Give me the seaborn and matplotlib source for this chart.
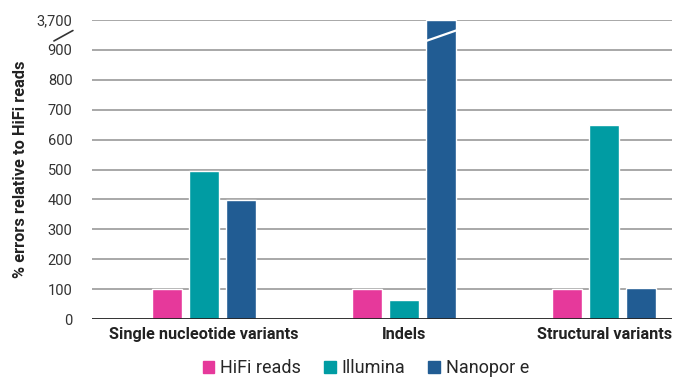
import pandas as pd
import matplotlib.pyplot as plt
import seaborn as sns
from matplotlib.patches import Patch

# Data
categories = ["Single nucleotide variants", "Indels", "Structural variants"]
platforms = ["HiFi reads", "Illumina", "Nanopor e"]
hifi = [100, 100, 100]
illumina = [495, 62, 650]
nanopore = [397, 3700, 105]
colors = ["#E6399B", "#009CA3", "#215C93"]

yticks = [0, 100, 200, 300, 400, 500, 600, 700, 800, 900, 1000]
ytick_labels = ["0", "100", "200", "300", "400", "500", "600", "700", "800", "900", "3,700"]

# Long table; values above 900 are drawn at the broken top tick
rows = []
for vals, p in zip([hifi, illumina, nanopore], platforms):
    for c, v in zip(categories, vals):
        rows.append({"Category": c, "Platform": p, "Value": v, "Shown": v if v <= 900 else 1000})
df = pd.DataFrame(rows)

sns.set_theme(style="white")
plt.rcParams['font.family'] = ['Roboto', 'DejaVu Sans']

fig = plt.figure(figsize=(6.81, 3.78), dpi=100)
ax = fig.add_axes([0.135, 0.156, 0.852, 0.791])

for y in yticks[1:]:
    ax.axhline(y, color="#9a9a9a", lw=1.2, zorder=0)
ax.axhline(0, color="#222222", lw=1.3, zorder=3)

sns.barplot(data=df, x="Category", y="Shown", hue="Platform", hue_order=platforms,
            palette=colors, width=0.555, gap=0.19, saturation=1, ax=ax, legend=False, zorder=2)

ax.set_xlim(-0.56, 2.34)
ax.set_ylim(0, 1000)
ax.set_yticks(yticks)
ax.set_yticklabels(ytick_labels, fontsize=10.5, color="#333333")
ax.tick_params(axis="y", length=0, pad=14)
ax.tick_params(axis="x", length=0, pad=6)
for lab in ax.get_xticklabels():
    lab.set_fontweight("bold")
    lab.set_fontsize(11.7)
    lab.set_color("#222222")
ax.set_xlabel("")
ax.set_ylabel("% errors relative to HiFi reads", fontsize=11.8, fontweight="bold", color="#222222", labelpad=6)
for s in ax.spines.values():
    s.set_visible(False)

# axis break mark between 900 and 3,700
ax.plot([-0.75, -0.655], [930, 965], color="#333333", lw=1.2, clip_on=False, transform=ax.transData)

# break line on the bar that was cut
nano_bar = ax.patches[2 * len(categories) + 1]
x0 = nano_bar.get_x()
w = nano_bar.get_width()
ax.plot([x0, x0 + w], [930, 965], color="white", lw=1.6, zorder=4)

handles = [Patch(color=c, label=p) for c, p in zip(colors, platforms)]
fig.legend(handles=handles, loc="lower center", bbox_to_anchor=(0.537, -0.04), ncol=3, frameon=False,
           fontsize=13, handlelength=0.65, handleheight=0.65, handletextpad=0.3, columnspacing=1.3)

fig.savefig("out.png", dpi=100)
